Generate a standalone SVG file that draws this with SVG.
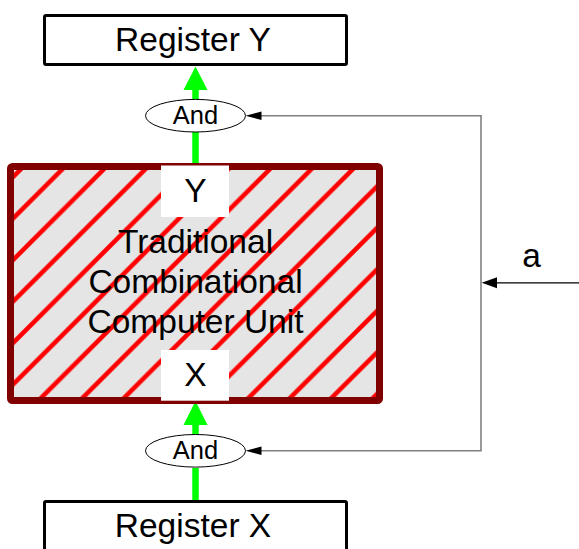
<svg xmlns="http://www.w3.org/2000/svg" width="579" height="549" viewBox="0 0 579 549">
  <style>
    .lbl { font-family: "Liberation Sans", Arial, sans-serif; fill: #000; text-anchor: middle; }
    .big { font-size: 33.5px; }
    .small { font-size: 25.5px; }
    .reg { fill: #fff; stroke: #000; stroke-width: 3; }
    .gate { fill: #fff; stroke: #000; stroke-width: 1; }
    .bus { stroke: #00ff00; stroke-width: 6.5; fill: none; }
    .ctl { stroke: #808080; stroke-width: 1.6; fill: none; }
    .sig { stroke: #000; stroke-width: 1.2; fill: none; }
    .port { fill: #fff; }
  </style>
  <defs>
    <pattern id="hatch" patternUnits="userSpaceOnUse" x="24" y="0" width="41.5" height="41.5">
      <rect width="41.5" height="41.5" fill="#e5e5e5"/>
      <path d="M-2,43.5 L43.5,-2 M-22.75,22.75 L22.75,-22.75 M18.75,64.25 L64.25,18.75" stroke="#ff0000" stroke-width="4.5"/>
    </pattern>
  </defs>

  <!-- datapath and control connectors -->
  <g id="connectors">
    <!-- unit output Y -> And -> Register Y -->
    <line class="bus" x1="195.5" y1="166" x2="195.5" y2="132"/>
    <line class="bus" x1="195.5" y1="99" x2="195.5" y2="88"/>
    <polygon points="195.5,66.5 183.5,90 207.5,90" fill="#00ff00"/>
    <!-- Register X -> And -> unit input X -->
    <line class="bus" x1="195.5" y1="500" x2="195.5" y2="468"/>
    <line class="bus" x1="195.5" y1="434" x2="195.5" y2="424"/>
    <polygon points="195.5,401 183.5,425 207.5,425" fill="#00ff00"/>
    <!-- enable signal a fanned out to both gates -->
    <path class="ctl" d="M260,115.7 H481 V450.8 H260"/>
    <polygon points="245.5,115.7 261.5,111.4 261.5,120" fill="#000"/>
    <polygon points="245.5,450.8 261.5,446.5 261.5,455.1" fill="#000"/>
    <line class="sig" x1="496" y1="282.8" x2="579" y2="282.8"/>
    <polygon points="481.7,282.8 497,277.3 497,288.3" fill="#000"/>
    <text class="lbl big" x="531.5" y="267">a</text>
  </g>

  <g id="register-y">
    <rect class="reg" x="44.5" y="15.5" width="302" height="49" rx="1.5"/>
    <text class="lbl big" x="193" y="51">Register Y</text>
  </g>

  <g id="and-top">
    <ellipse class="gate" cx="195.5" cy="115.7" rx="50" ry="16.3"/>
    <text class="lbl small" x="195.5" y="123.5">And</text>
  </g>

  <g id="unit">
    <rect x="10.5" y="166.5" width="369" height="234" rx="2" fill="url(#hatch)" stroke="#800000" stroke-width="7"/>
    <rect class="port" x="161" y="165.5" width="68" height="51.5"/>
    <text class="lbl big" x="195.5" y="202">Y</text>
    <rect class="port" x="161" y="350" width="68" height="50.7"/>
    <text class="lbl big" x="195.5" y="386">X</text>
    <text class="lbl big" x="195.5" y="253">Traditional</text>
    <text class="lbl big" x="195.5" y="292.5">Combinational</text>
    <text class="lbl big" x="195.5" y="333">Computer Unit</text>
  </g>

  <g id="and-bottom">
    <ellipse class="gate" cx="195.5" cy="450.8" rx="50" ry="16.3"/>
    <text class="lbl small" x="195.5" y="458.6">And</text>
  </g>

  <g id="register-x">
    <rect class="reg" x="44.5" y="501.5" width="302" height="60" rx="1.5"/>
    <text class="lbl big" x="193" y="537">Register X</text>
  </g>
</svg>
